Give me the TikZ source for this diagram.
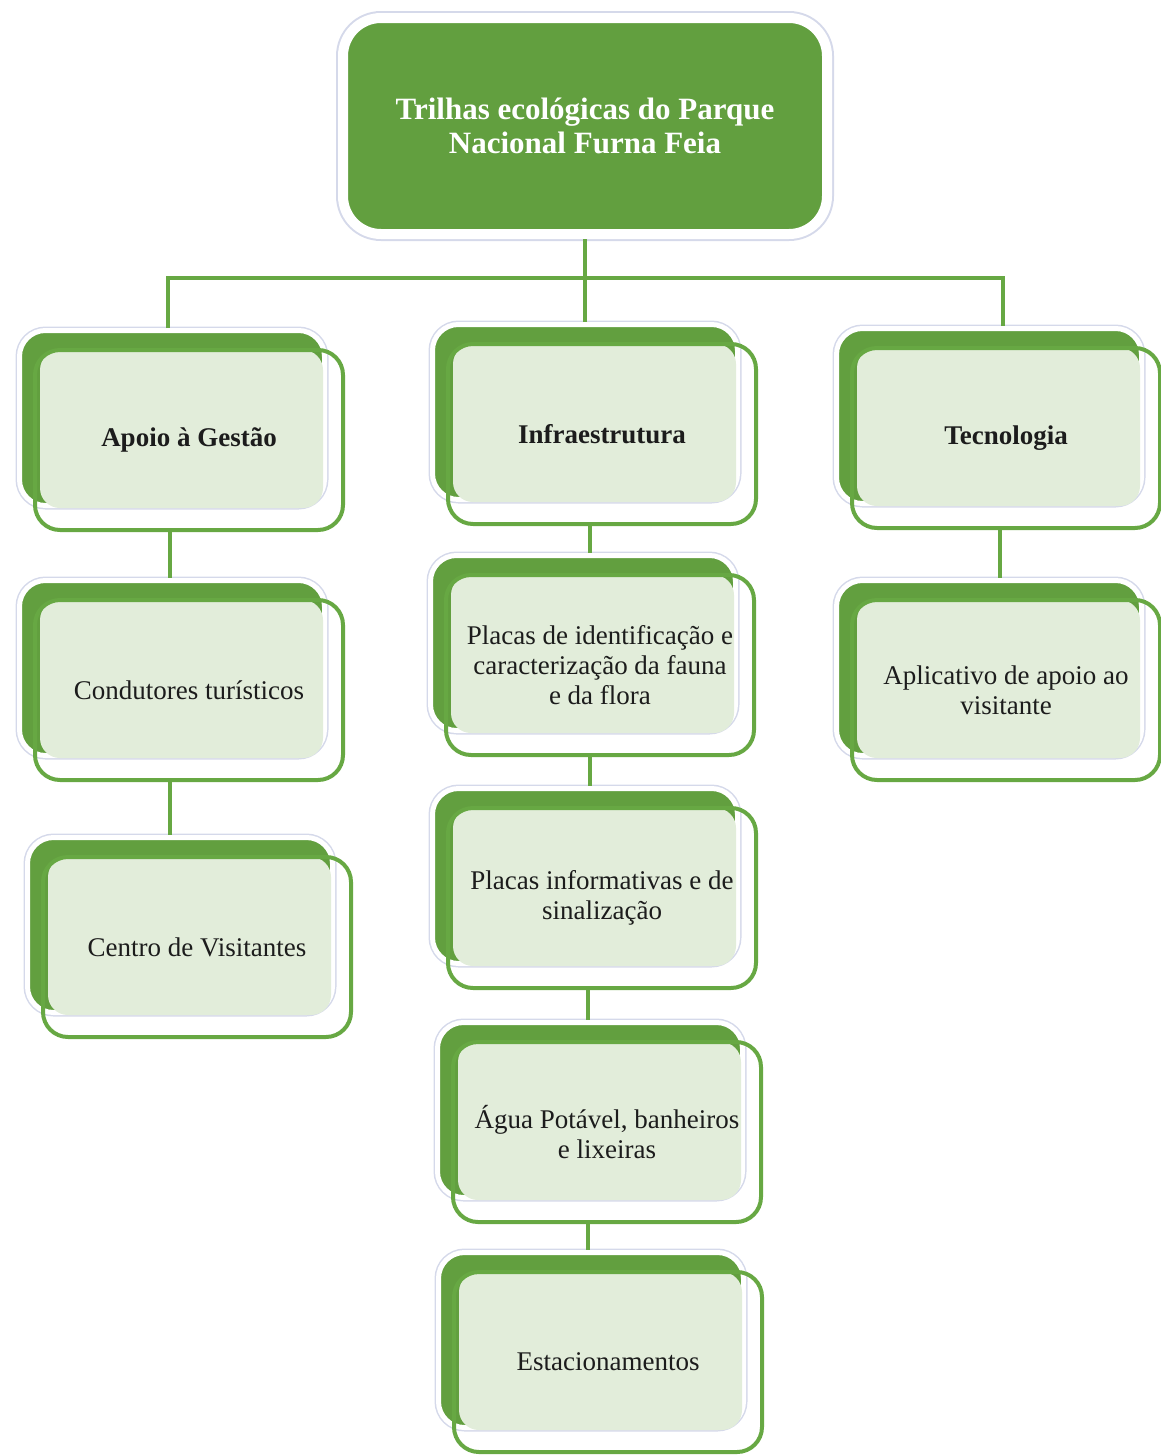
\documentclass[tikz,border=0pt]{standalone}
\usepackage{fontspec}
\setmainfont{Liberation Serif}
\usepackage{tikz}
\usetikzlibrary{calc,positioning}
\definecolor{parkgreen}{HTML}{629F3F}
\definecolor{trailgreen}{HTML}{67A843}
\definecolor{leafgreen}{HTML}{E2EDDA}
\definecolor{mistblue}{HTML}{D5D9EA}
\definecolor{inkgray}{HTML}{1C1C1C}
\tikzset{
  rootbox/.style={fill=parkgreen, draw=white, line width=10pt, rounded corners=38pt,
    preaction={draw=mistblue, line width=14pt},
    minimum width=484pt, minimum height=216pt, inner sep=0pt, align=center,
    text=white, font=\fontsize{31}{34}\selectfont\bfseries},
  backbox/.style={fill=parkgreen, draw=white, line width=5pt, rounded corners=26pt,
    preaction={draw=mistblue, line width=8pt},
    minimum width=305pt, minimum height=175pt, inner sep=0pt},
  fillbox/.style={fill=leafgreen, rounded corners=20pt,
    minimum width=283pt, minimum height=158pt, inner sep=0pt},
  frontbox/.style={draw=trailgreen, line width=4pt, rounded corners=25pt,
    minimum width=308pt, minimum height=180pt, inner sep=0pt, align=center,
    text=inkgray, font=\fontsize{27}{30}\selectfont},
  link/.style={draw=trailgreen, line width=4pt}
}
% caixa em tres camadas: fundo verde, miolo claro e contorno
\newcommand{\trilhabox}[4]{%
  \node[backbox] (#1-b) at ($(#2,#3)+(-17,-22)$) {};
  \node[fillbox] (#1-f) at ($(#2,#3)+(-7.5,-11)$) {};
  \node[frontbox] (#1) at (#2,#3) {#4};
}
\begin{document}
\begin{tikzpicture}[x=1pt,y=-1pt]
  \useasboundingbox (0,0) rectangle (1160,1456);
  % raiz
  \node[rootbox] (root) at (585,126) {Trilhas ecológicas do Parque\\Nacional Furna Feia};
  % coluna esquerda
  \trilhabox{apoio}{189}{440}{\textbf{Apoio à Gestão}}
  \trilhabox{condutores}{189}{690}{Condutores turísticos}
  \trilhabox{centro}{197}{947}{Centro de Visitantes}
  % coluna central
  \trilhabox{infra}{602}{434}{\textbf{Infraestrutura}}
  \trilhabox{placasid}{600}{665}{Placas de identificação e\\caracterização da fauna\\e da flora}
  \trilhabox{placasinfo}{602}{898}{Placas informativas e de\\sinalização}
  \trilhabox{agua}{607}{1132}{Água Potável, banheiros\\e lixeiras}
  \trilhabox{estac}{608}{1362}{Estacionamentos}
  % coluna direita
  \trilhabox{tecno}{1006}{438}{\textbf{Tecnologia}}
  \trilhabox{aplic}{1006}{690}{Aplicativo de apoio ao\\visitante}
  % ligacoes
  \coordinate (bar) at (585,278);
  \draw[link] (root.south) -- (root.south |- infra-b.north);
  \draw[link] ([xshift=-4]apoio-b.north) |- (bar) -| ([xshift=14]tecno-b.north);
  \draw[link] ([xshift=-19]apoio.south) -- ([xshift=-19]apoio.south |- condutores-b.north);
  \draw[link] ([xshift=-19]condutores.south) -- ([xshift=-19]condutores.south |- centro-b.north);
  \draw[link] ([xshift=-12]infra.south) -- ([xshift=-12]infra.south |- placasid-b.north);
  \draw[link] ([xshift=-10]placasid.south) -- ([xshift=-10]placasid.south |- placasinfo-b.north);
  \draw[link] ([xshift=-14]placasinfo.south) -- ([xshift=-14]placasinfo.south |- agua-b.north);
  \draw[link] ([xshift=-19]agua.south) -- ([xshift=-19]agua.south |- estac-b.north);
  \draw[link] ([xshift=-6]tecno.south) -- ([xshift=-6]tecno.south |- aplic-b.north);
\end{tikzpicture}
\end{document}
